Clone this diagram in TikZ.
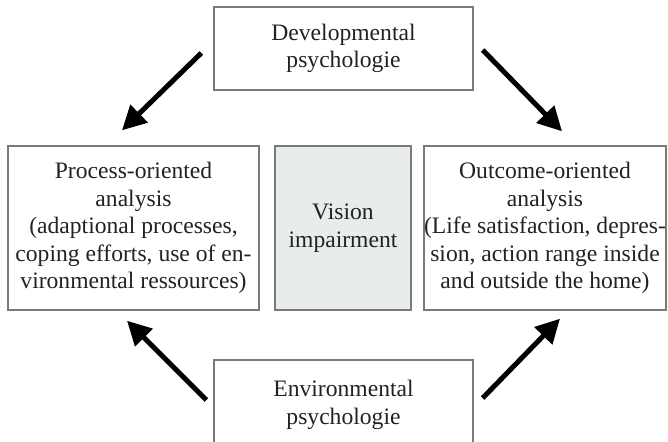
\documentclass[tikz,border=0pt]{standalone}
\usepackage{fontspec}
\setmainfont{Liberation Serif}
\usetikzlibrary{arrows.meta,calc}
\definecolor{boxline}{HTML}{7A7A7A}
\definecolor{boxgray}{HTML}{E8ECEB}
\definecolor{txt}{HTML}{222222}
\begin{document}
\begin{tikzpicture}[x=1pt,y=-1pt,
  box/.style={draw=boxline,line width=1.4pt,align=center,inner sep=0pt,
    text=txt,font=\fontsize{23.6}{27.6}\selectfont},
  bigarrow/.style={line width=5pt,-{Triangle[length=24pt,width=24pt]}}]
\useasboundingbox (0,0) rectangle (668,441);
\clip (0,0) rectangle (668,441);
\node[box,minimum width=259pt,minimum height=83pt] (top) at (343.5,48.5) {Developmental\\psychologie};
\node[box,minimum width=251pt,minimum height=164pt] (left) at (133.5,228) {Process-oriented\\analysis\\(adaptional processes,\\coping efforts, use of en-\\vironmental ressources)};
\node[box,fill=boxgray,minimum width=136pt,minimum height=164pt] (mid) at (343,228) {Vision\\impairment};
\node[box,minimum width=236pt,minimum height=164pt] (right) at (545,228) {Outcome-oriented\\analysis\\(Life satisfaction, depres-\\sion, action range inside\\and outside the home)};
\node[box,minimum width=259pt,minimum height=90pt] (bottom) at (343.5,405) {Environmental\\psychologie};
\draw[bigarrow] ($(top.west)+(-12,4.5)$) -- ($(left.north)+(-11.5,-15)$);
\draw[bigarrow] ($(top.east)+(9,1.5)$) -- ($(right.north)+(17,-14)$);
\draw[bigarrow] ($(bottom.west)+(-7,-5)$) -- ($(left.south)+(-6.5,10)$);
\draw[bigarrow] ($(bottom.east)+(9,-7)$) -- ($(right.south)+(15,8)$);
\end{tikzpicture}
\end{document}
